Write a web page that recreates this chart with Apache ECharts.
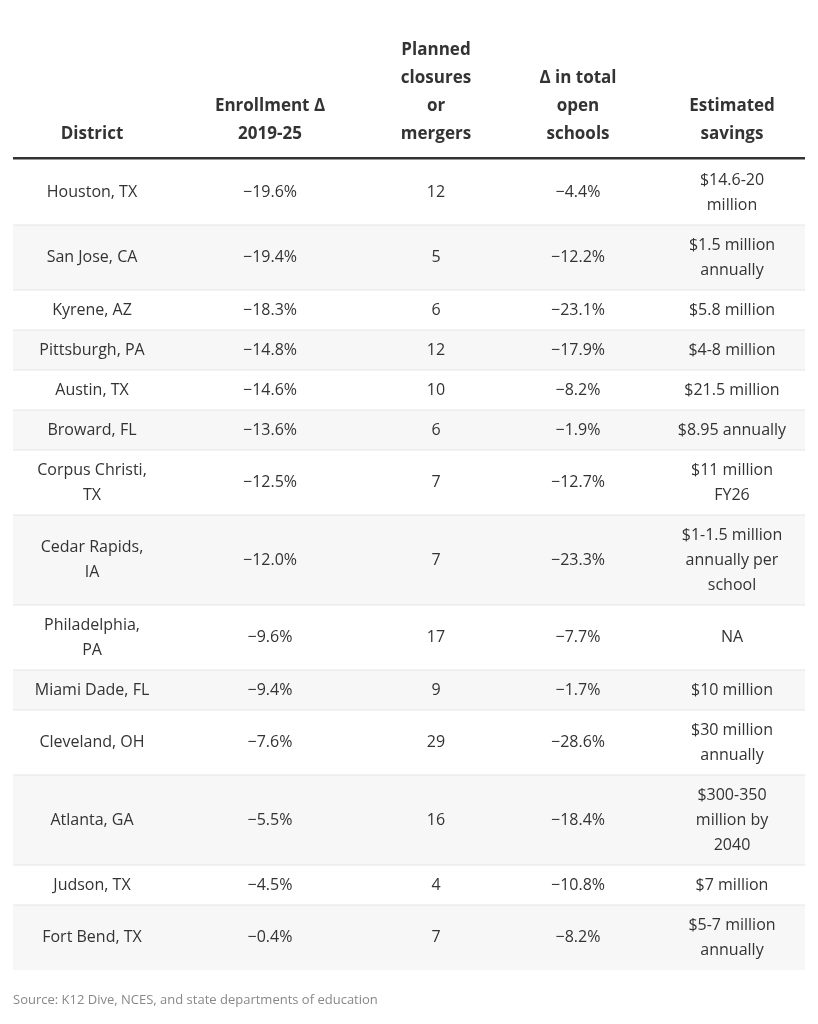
<!DOCTYPE html>
<html>
<head>
<meta charset="utf-8">
<script src="https://cdn.jsdelivr.net/npm/echarts@6/dist/echarts.min.js"></script>
<style>
  html, body { margin: 0; padding: 0; background: #fff; }
  #main { width: 818px; height: 1024px; }
</style>
</head>
<body>
<div id="main"></div>
<script>
    var headers = ['District', 'Enrollment Δ\n2019-25', 'Planned\nclosures\nor\nmergers', 'Δ in total\nopen\nschools', 'Estimated\nsavings'];
    var districts = ['Houston, TX', 'San Jose, CA', 'Kyrene, AZ', 'Pittsburgh, PA', 'Austin, TX', 'Broward, FL', 'Corpus Christi,\nTX',
        'Cedar Rapids,\nIA', 'Philadelphia,\nPA', 'Miami Dade, FL', 'Cleveland, OH', 'Atlanta, GA', 'Judson, TX', 'Fort Bend, TX'];
    var enrollment = ['−19.6%', '−19.4%', '−18.3%', '−14.8%', '−14.6%', '−13.6%', '−12.5%', '−12.0%', '−9.6%', '−9.4%', '−7.6%', '−5.5%', '−4.5%', '−0.4%'];
    var closures = ['12', '5', '6', '12', '10', '6', '7', '7', '17', '9', '29', '16', '4', '7'];
    var openSchools = ['−4.4%', '−12.2%', '−23.1%', '−17.9%', '−8.2%', '−1.9%', '−12.7%', '−23.3%', '−7.7%', '−1.7%', '−28.6%', '−18.4%', '−10.8%', '−8.2%'];
    var savings = ['$14.6-20\nmillion', '$1.5 million\nannually', '$5.8 million', '$4-8 million', '$21.5 million', '$8.95 annually', '$11 million\nFY26',
        '$1-1.5 million\nannually per\nschool', 'NA', '$10 million', '$30 million\nannually', '$300-350\nmillion by\n2040', '$7 million', '$5-7 million\nannually'];
    var source = 'Source: K12 Dive, NCES, and state departments of education';

    (function () {
        var colX = [92, 270, 436, 578, 732];
        var x0 = 13, x1 = 805, rowTop = 160;
        var font = '"Open Sans", sans-serif';
        var els = [];

        headers.forEach(function (h, i) {
            els.push({ type: 'text', style: { text: h, x: colX[i], y: 148, align: 'center', verticalAlign: 'bottom',
                font: 'bold 17px ' + font, fill: '#333', lineHeight: 28 } });
        });

        var y = rowTop;
        districts.forEach(function (d, r) {
            var cells = [d, enrollment[r], closures[r], openSchools[r], savings[r]];
            var lines = Math.max.apply(null, cells.map(function (c) { return c.split('\n').length; }));
            var h = 15 + 25 * lines;
            if (r % 2 === 1) {
                els.push({ type: 'rect', shape: { x: x0, y: y, width: x1 - x0, height: h }, style: { fill: '#f7f7f7' } });
            }
            if (r > 0) {
                els.push({ type: 'rect', shape: { x: x0, y: y - 0.5, width: x1 - x0, height: 1 }, style: { fill: '#e6e6e6' } });
            }
            cells.forEach(function (c, i) {
                els.push({ type: 'text', style: { text: c, x: colX[i], y: y + h / 2, align: 'center', verticalAlign: 'middle',
                    font: '16px ' + font, fill: '#333', lineHeight: 25 } });
            });
            y += h;
        });

        els.push({ type: 'rect', shape: { x: x0, y: 157, width: x1 - x0, height: 2.5 }, style: { fill: '#333' } });
        els.push({ type: 'text', style: { text: source, x: 13, y: 1000, verticalAlign: 'middle',
            font: '13px ' + font, fill: '#888' } });

        var myChart = echarts.init(document.getElementById('main'));
        myChart.setOption({ animation: false, graphic: { elements: els } });
    })();
</script>
</body>
</html>
